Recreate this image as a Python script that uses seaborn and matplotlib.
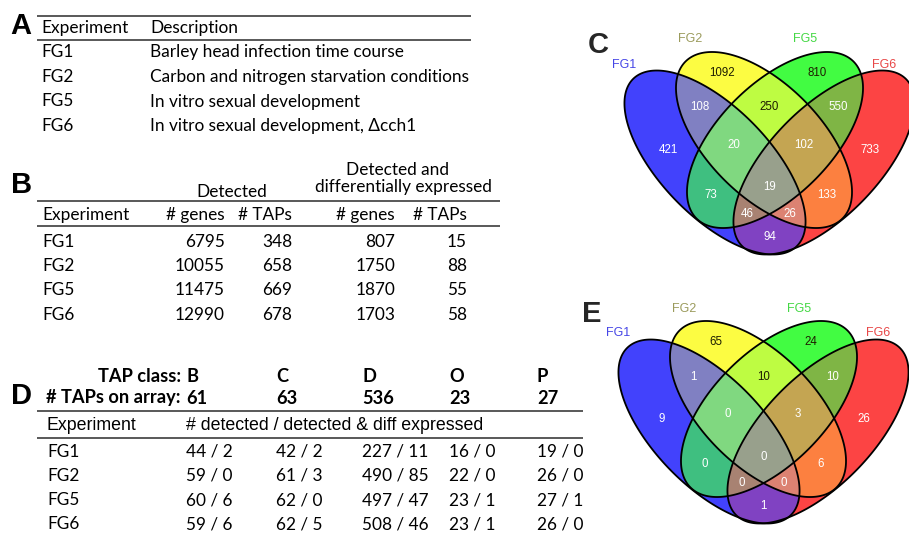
import numpy as np
import matplotlib
matplotlib.use("Agg")
import matplotlib.pyplot as plt
from matplotlib.patches import Polygon
from itertools import combinations
import seaborn as sns

# ---------------- data ----------------
a_experiments = ["FG1", "FG2", "FG5", "FG6"]
a_descriptions = ["Barley head infection time course",
                  "Carbon and nitrogen starvation conditions",
                  "In vitro sexual development",
                  "In vitro sexual development, \u0394cch1"]

b_experiments = ["FG1", "FG2", "FG5", "FG6"]
b_genes_detected = [6795, 10055, 11475, 12990]
b_taps_detected = [348, 658, 669, 678]
b_genes_de = [807, 1750, 1870, 1703]
b_taps_de = [15, 88, 55, 58]

d_classes = ["B", "C", "D", "O", "P"]
d_taps_on_array = [61, 63, 536, 23, 27]
d_experiments = ["FG1", "FG2", "FG5", "FG6"]
d_detected = [[44, 42, 227, 16, 19],
              [59, 61, 490, 22, 26],
              [60, 62, 497, 23, 27],
              [59, 62, 508, 23, 26]]
d_diff = [[2, 2, 11, 0, 0],
          [0, 3, 85, 0, 0],
          [6, 0, 47, 1, 1],
          [6, 5, 46, 1, 0]]

venn_sets = ["FG1", "FG2", "FG5", "FG6"]
# region keys: membership in (FG1, FG2, FG5, FG6)
venn_c = {"1000": 421, "0100": 1092, "0010": 810, "0001": 733,
          "1100": 108, "0110": 250, "0011": 550, "1010": 73, "0101": 133, "1001": 94,
          "1110": 20, "0111": 102, "1011": 46, "1101": 26, "1111": 19}
venn_e = {"1000": 9, "0100": 65, "0010": 24, "0001": 26,
          "1100": 1, "0110": 10, "0011": 10, "1010": 0, "0101": 6, "1001": 1,
          "1110": 0, "0111": 3, "1011": 0, "1101": 0, "1111": 0}

# ---------------- style ----------------
sns.set_theme(style="white")
CAL = ["Lato", "DejaVu Sans"]
ARI = ["Liberation Sans", "DejaVu Sans"]
plt.rcParams["font.family"] = CAL
RULE = "#3c3c3c"

region_colors = {"1000": "#4242FC", "0100": "#FCFC42", "0010": "#42FC42", "0001": "#FC4444",
                 "1100": "#8080C2", "0110": "#BEFC42", "0011": "#7FB545", "1010": "#3FBF80",
                 "0101": "#FC8040", "1001": "#8042C2", "1110": "#80D880", "0111": "#C4A552",
                 "1011": "#A88272", "1101": "#DC8272", "1111": "#98A08C"}
dark_keys = {"0100", "0010", "0110"}
set_colors = ["#4747E6", "#9B9B5C", "#45D845", "#E84848"]

fig = plt.figure(figsize=(9.09, 5.34), dpi=100)
ax = fig.add_axes([0, 0, 1, 1])
ax.set_xlim(0, 909)
ax.set_ylim(534, 0)
ax.axis("off")
renderer = fig.canvas.get_renderer()


def fit(s, target, family, weight="normal"):
    t = ax.text(0, 0, s, fontsize=20, family=family, weight=weight)
    w = t.get_window_extent(renderer).width
    t.remove()
    return 20.0 * target / w


FS = fit("Carbon and nitrogen starvation conditions", 321, CAL)
FSB = fit("# TAPs on array:", 134, CAL, "bold")
FSA = fit("# detected / detected & diff expressed", 297, ARI)
FSL = 21


def txt(x, y, s, size=None, family=CAL, weight="normal", ha="left", color="black"):
    ax.text(x, y, s, fontsize=FS if size is None else size, family=family,
            weight=weight, ha=ha, va="baseline", color=color)


def rule(x0, x1, y):
    ax.plot([x0, x1], [y, y], color=RULE, lw=1.2, solid_capstyle="butt")


# ---------------- panel A ----------------
txt(10, 33.5, "A", FSL, ARI, "bold")
rule(37, 471, 16.3)
txt(41, 32.5, "Experiment")
txt(150.5, 32.5, "Description")
rule(37, 471, 40)
for i, (e, d) in enumerate(zip(a_experiments, a_descriptions)):
    y = 57.3 + i * 24.6
    txt(41, y, e)
    txt(150.5, y, d)

# ---------------- panel B ----------------
txt(11, 193.3, "B", FSL, ARI, "bold")
txt(231.7, 196.7, "Detected", ha="center")
txt(398, 175, "Detected and", ha="center")
txt(403.5, 192, "differentially expressed", ha="center")
rule(37, 500, 201)
txt(42, 220, "Experiment")
b_cols_right = [225, 292, 395, 467]
for xr, h in zip(b_cols_right, ["# genes", "# TAPs", "# genes", "# TAPs"]):
    txt(xr, 220, h, ha="right")
rule(37, 500, 226)
for i, e in enumerate(b_experiments):
    y = 247 + i * 24.2
    txt(42, y, e)
    vals = [b_genes_detected[i], b_taps_detected[i], b_genes_de[i], b_taps_de[i]]
    for xr, v in zip(b_cols_right, vals):
        txt(xr, y, str(v), ha="right")

# ---------------- panel D ----------------
txt(11, 403.5, "D", FSL, ARI, "bold")
d_cols = [186.5, 276, 362, 449, 537]
txt(181, 382, "TAP class:", FSB, weight="bold", ha="right")
txt(181, 403.5, "# TAPs on array:", FSB, weight="bold", ha="right")
for x, c, n in zip(d_cols, d_classes, d_taps_on_array):
    txt(x, 382, c, FSB, weight="bold")
    txt(x, 403.5, str(n), FSB, weight="bold")
rule(37, 583, 410.5)
txt(47, 429.5, "Experiment", FSA, ARI)
txt(186, 429.5, "# detected / detected & diff expressed", FSA, ARI)
rule(37, 583, 437.5)
for i, e in enumerate(d_experiments):
    y = 456.7 + i * 24.2
    txt(47, y, e)
    for x, det, de in zip(d_cols, d_detected[i], d_diff[i]):
        txt(x, y, f"{det} / {de}")


# ---------------- Venn diagrams ----------------
def ellipses_at(ox, oy):
    return [(ox - 54.5, oy + 19.5, 117, 54.5, 45.7),
            (ox - 5.5, oy - 3.0, 111, 56.3, 45.0),
            (ox + 5.5, oy - 3.0, 111, 56.3, 135.0),
            (ox + 54.5, oy + 19.5, 117, 54.5, 134.3)]


def ell_points(cx, cy, a, b, phi, n=900):
    t = np.linspace(0, 2 * np.pi, n, endpoint=False)
    p = np.deg2rad(phi)
    x = cx + a * np.cos(t) * np.cos(p) - b * np.sin(t) * np.sin(p)
    y = cy + a * np.cos(t) * np.sin(p) + b * np.sin(t) * np.cos(p)
    return np.column_stack([x, y])


def inside(e, pts):
    cx, cy, a, b, phi = e
    p = np.deg2rad(phi)
    dx = pts[:, 0] - cx
    dy = pts[:, 1] - cy
    u = dx * np.cos(p) + dy * np.sin(p)
    v = -dx * np.sin(p) + dy * np.cos(p)
    return (u / a) ** 2 + (v / b) ** 2 <= 1 + 1e-9


def region_poly(ells, idx):
    pts = []
    for i in idx:
        P = ell_points(*ells[i])
        m = np.ones(len(P), bool)
        for j in idx:
            if j != i:
                m &= inside(ells[j], P)
        pts.append(P[m])
    pts = np.vstack(pts)
    c = pts.mean(axis=0)
    ang = np.arctan2(pts[:, 1] - c[1], pts[:, 0] - c[0])
    return pts[np.argsort(ang)]


label_offsets = {"1000": (-101.5, 6.3), "0001": (100.5, 6.3),
                 "0100": (-47.2, -71.3), "0010": (47.2, -71.3),
                 "1100": (-70, -36.5), "0011": (69, -36.5),
                 "0110": (0, -36.5),
                 "1110": (-35.5, 1.3), "0111": (34.5, 1.3),
                 "1111": (0, 43.5),
                 "1010": (-58.5, 51.3), "0101": (57.5, 51.3),
                 "1011": (-22, 69.7), "1101": (20, 69.7),
                 "1001": (0, 93)}
set_label_offsets = [(-145.5, -80), (-79, -105), (36, -105), (114.5, -80)]


def draw_venn(ox, oy, counts, letter):
    ells = ellipses_at(ox, oy)
    for k in range(1, 5):
        for combo in combinations(range(4), k):
            key = "".join("1" if i in combo else "0" for i in range(4))
            poly = region_poly(ells, combo)
            ax.add_patch(Polygon(poly, closed=True, facecolor=region_colors[key],
                                 edgecolor="none", lw=0, zorder=2))
    for e in ells:
        ax.add_patch(Polygon(ell_points(*e), closed=True, fill=False,
                             edgecolor="black", lw=1.3, zorder=3))
    for key, n in counts.items():
        dx, dy = label_offsets[key]
        ax.text(ox + dx, oy + dy + 4.0, str(n), fontsize=8.3, family=ARI,
                ha="center", va="baseline", zorder=4,
                color="#1e1e00" if key in dark_keys else "white")
    for (dx, dy), name, col in zip(set_label_offsets, venn_sets, set_colors):
        ax.text(ox + dx, oy + dy + 4.5, name, fontsize=9.0, family=ARI,
                ha="center", va="baseline", color=col, zorder=4)
    ax.text(ox - 182, oy - 90, letter, fontsize=FSL, family=ARI, weight="bold",
            ha="left", va="baseline", zorder=4)


draw_venn(769.5, 143, venn_c, "C")
draw_venn(763.5, 412, venn_e, "E")

fig.savefig("out.png", dpi=100)
